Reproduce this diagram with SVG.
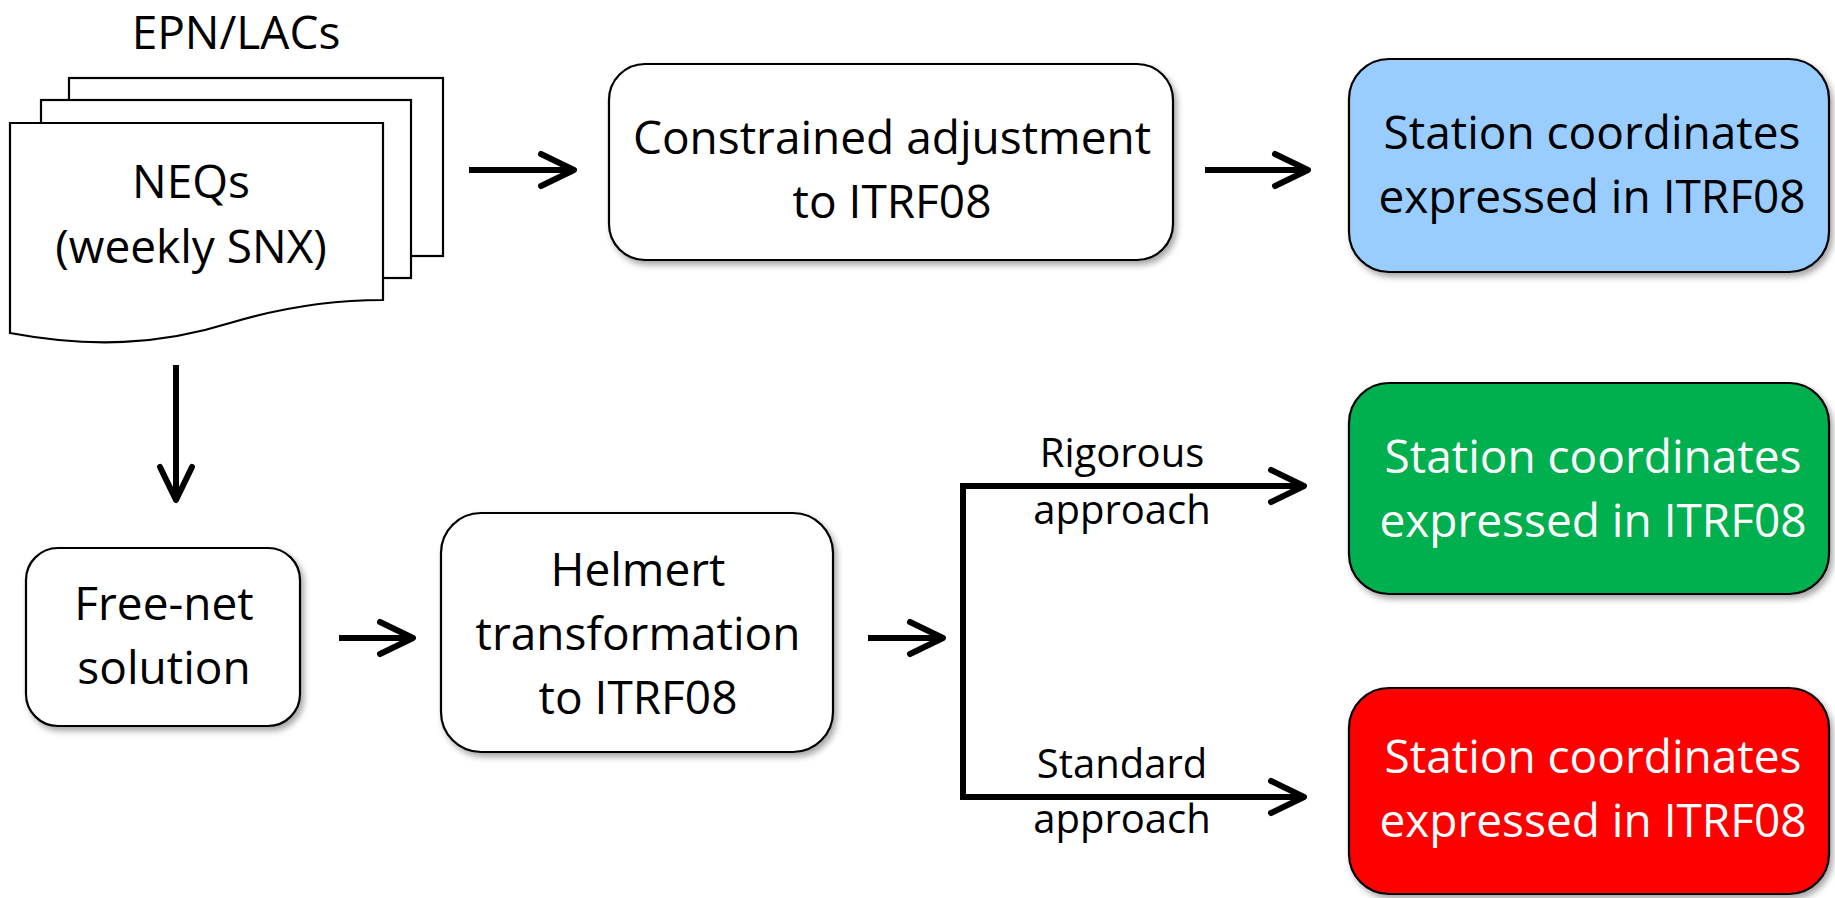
<svg xmlns="http://www.w3.org/2000/svg" width="1835" height="898" viewBox="0 0 1835 898">
  <style>
    .t { font-family: "Open Sans", "Liberation Sans", sans-serif; font-size: 46px; fill: #000; text-anchor: middle; }
    .lbl { font-family: "Open Sans", "Liberation Sans", sans-serif; font-size: 40px; fill: #000; text-anchor: middle; }
    .w { fill: #fff; }
    .box { stroke: #000; stroke-width: 2.2; filter: url(#shadow); }
    .doc { fill: #fff; stroke: #000; stroke-width: 2.2; }
    .conn { fill: none; stroke: #000; stroke-width: 6; stroke-linecap: butt; stroke-linejoin: miter; marker-end: url(#arrow); }
  </style>
  <defs>
    <filter id="shadow" x="-10%" y="-10%" width="125%" height="130%">
      <feDropShadow dx="3" dy="4" stdDeviation="3" flood-color="#000" flood-opacity="0.35"/>
    </filter>
    <marker id="arrow" markerUnits="userSpaceOnUse" viewBox="-40 -22 48 44" markerWidth="48" markerHeight="44" refX="0" refY="0" orient="auto" overflow="visible">
      <path d="M-33,-16 L0,0 L-33,16" fill="none" stroke="#000" stroke-width="6" stroke-linecap="round" stroke-linejoin="round"/>
    </marker>
  </defs>
  <rect width="1835" height="898" fill="#fff"/>

  <g id="neqs">
    <text class="t" x="236" y="49">EPN/LACs</text>
    <rect class="doc" x="69" y="78" width="374" height="178"/>
    <rect class="doc" x="41" y="100" width="370" height="178"/>
    <path class="doc" d="M10,123 L383,123 L383,300 C340,300 290,305 230,323 C160,345 90,348 10,333 Z"/>
    <text class="t" x="191" y="198">NEQs</text>
    <text class="t" x="191" y="263">(weekly SNX)</text>
  </g>

  <g id="constrained">
    <rect class="box" x="609" y="64" width="564" height="196" rx="36" fill="#fff"/>
    <text class="t" x="892" y="154">Constrained adjustment</text>
    <text class="t" x="892" y="218">to ITRF08</text>
  </g>

  <g id="result-blue">
    <rect class="box" x="1349" y="59" width="480" height="213" rx="40" fill="#99CCFF"/>
    <text class="t" x="1592" y="149">Station coordinates</text>
    <text class="t" x="1592" y="213">expressed in ITRF08</text>
  </g>

  <g id="freenet">
    <rect class="box" x="26" y="548" width="274" height="178" rx="32" fill="#fff"/>
    <text class="t" x="164" y="620">Free-net</text>
    <text class="t" x="164" y="684">solution</text>
  </g>

  <g id="helmert">
    <rect class="box" x="441" y="513" width="392" height="239" rx="40" fill="#fff"/>
    <text class="t" x="638" y="586">Helmert</text>
    <text class="t" x="638" y="650">transformation</text>
    <text class="t" x="638" y="714">to ITRF08</text>
  </g>

  <g id="result-green">
    <rect class="box" x="1349" y="383" width="480" height="211" rx="40" fill="#00B050"/>
    <text class="t w" x="1593" y="473">Station coordinates</text>
    <text class="t w" x="1593" y="537">expressed in ITRF08</text>
  </g>

  <g id="result-red">
    <rect class="box" x="1349" y="688" width="480" height="206" rx="40" fill="#FF0000"/>
    <text class="t w" x="1593" y="773">Station coordinates</text>
    <text class="t w" x="1593" y="837">expressed in ITRF08</text>
  </g>

  <g id="connectors">
    <path class="conn" d="M469,170 L574,170"/>
    <path class="conn" d="M1205,170 L1308,170"/>
    <path class="conn" d="M176,365 L176,500"/>
    <path class="conn" d="M339,638 L413,638"/>
    <path class="conn" d="M868,638 L943,638"/>
    <path class="conn" d="M963,800 L963,486 L1304,486"/>
    <path class="conn" d="M960,797 L1304,797"/>
    <text class="lbl" x="1122" y="467">Rigorous</text>
    <text class="lbl" x="1122" y="524">approach</text>
    <text class="lbl" x="1122" y="778">Standard</text>
    <text class="lbl" x="1122" y="833">approach</text>
  </g>
</svg>
